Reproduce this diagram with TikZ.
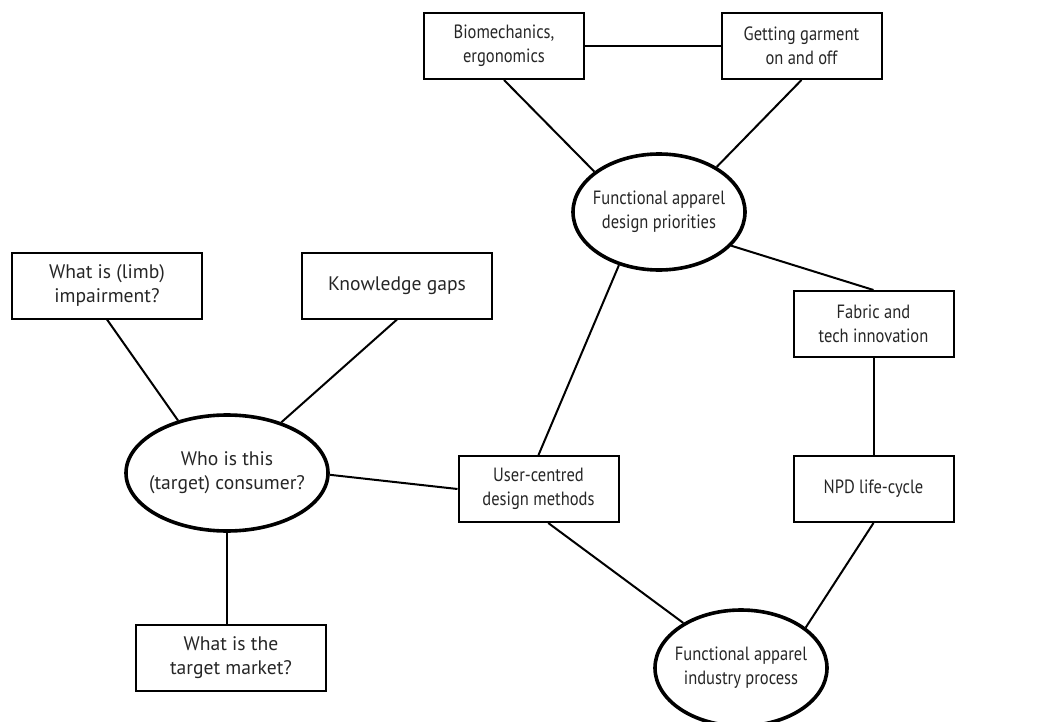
\documentclass[tikz,border=0pt]{standalone}
\usepackage{fontspec}
\setmainfont[FakeStretch=0.86]{PT Sans}
\newfontfamily\widesans{PT Sans}
\usetikzlibrary{shapes.geometric,calc}

\begin{document}
\begin{tikzpicture}[
    % GLOBAL CFG
    x=0.5pt, y=-0.5pt,
    font=\fontsize{9.6}{12}\selectfont,
    text=black!85,
    % Styles
    topic/.style={% plain boxes
        rectangle,
        draw=black,
        line width=1pt,
        minimum width=80pt,
        minimum height=33pt,
        align=center,
        inner sep=2pt,
        },
    widetopic/.style={% the wider boxes on the left, set a bit looser
        topic,
        minimum width=95pt,
        font=\widesans\fontsize{9.8}{12}\selectfont,
        },
    hub/.style={% thick ellipses in the middle of each cluster
        ellipse,
        draw=black,
        line width=1.8pt,
        minimum width=86pt,
        minimum height=58pt,
        align=center,
        inner xsep=-6pt,
        inner ysep=0pt,
        },
    link/.style={% connectors
        line width=1pt,
        },
    ]

    \useasboundingbox (0,0) rectangle (1055,722);

    % Hubs
    \node [hub] (design) at (659,212) {Functional apparel\\design priorities};
    \node [hub, minimum width=101pt, font=\widesans\fontsize{9.8}{12}\selectfont]
        (consumer) at (227,473) {Who is this\\(target) consumer?};
    \node [hub] (industry) at (741,668) {Functional apparel\\industry process};

    % Boxes round the design priorities
    \node [topic] (biomech) at (504,46) {Biomechanics,\\ergonomics};
    \node [topic] (donning) at (801.5,46) {Getting garment\\on and off};
    \node [topic] (fabric) at (873.5,324) {Fabric and\\tech innovation};
    \node [topic] (ucd) at (538.5,489) {User-centred\\design methods};
    \node [topic] (npd) at (873.5,489) {NPD life-cycle};

    % Boxes round the consumer
    \node [widetopic] (limb) at (107,285.5) {What is (limb)\\impairment?};
    \node [widetopic] (gaps) at (397,285.5) {Knowledge gaps};
    \node [widetopic] (market) at (231,657.5) {What is the\\target market?};

    % Connect all
    \draw [link] (biomech) -- (donning);
    \draw [link] (biomech.south) -- (design.148);
    \draw [link] (donning.south) -- (design.38);
    \draw [link] (design.233) -- (ucd.north);
    \draw [link] (design.-25) -- (fabric.north);
    \draw [link] (fabric) -- (npd);

    \draw [link] (limb.south) -- (consumer.133);
    \draw [link] (gaps.south) -- (consumer.43);
    \draw [link] (consumer.-1) -- (ucd.west);
    \draw [link] (consumer.south) -- (consumer.south |- market.north);

    \draw [link] (ucd.-74) -- (industry.142);
    \draw [link] (npd.south) -- (industry.32);

\end{tikzpicture}
\end{document}
